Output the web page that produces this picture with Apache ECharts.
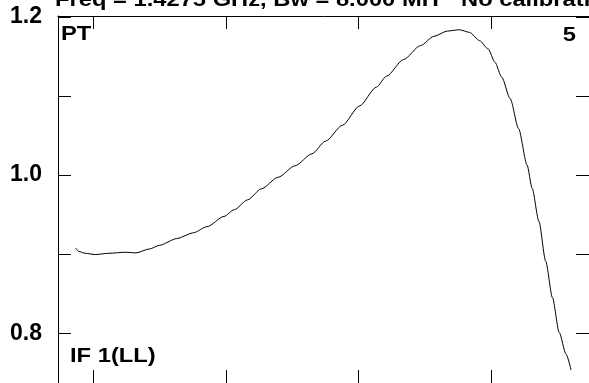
<!DOCTYPE html>
<html>
<head>
<meta charset="utf-8">
<script src="https://cdn.jsdelivr.net/npm/echarts@6/dist/echarts.min.js"></script>
<style>
html,body{margin:0;padding:0;background:#fff;}
#c{width:589px;height:383px;}
</style>
</head>
<body>
<div id="c"></div>
<script>
// channel positions (arbitrary units) and normalized amplitude
const chan = [87.0, 89.0, 94.1, 101.8, 112.0, 124.7, 132.4, 142.6, 150.2, 163.0, 175.7, 185.9, 198.7, 206.3, 216.5, 226.7, 239.4, 252.2, 264.9, 275.1, 287.9, 300.6, 313.4, 321.0, 333.8, 346.5, 356.7, 366.9, 375.8, 383.5, 391.1, 397.5, 402.6, 407.7, 414.1, 420.4, 426.8, 430.6, 435.7, 440.8, 445.9, 451.0, 456.1, 459.9];
const amp = [0.9078, 0.9036, 0.9010, 0.8994, 0.9010, 0.9023, 0.9015, 0.9065, 0.9111, 0.9195, 0.9270, 0.9346, 0.9476, 0.9560, 0.9686, 0.9824, 0.9971, 1.0117, 1.0268, 1.0428, 1.0629, 1.0872, 1.1111, 1.1249, 1.1459, 1.1635, 1.1753, 1.1820, 1.1836, 1.1803, 1.1698, 1.1593, 1.1426, 1.1237, 1.0964, 1.0587, 1.0126, 0.9832, 0.9413, 0.8910, 0.8449, 0.8008, 0.7736, 0.7535];
const xTicks = [100, 200, 300, 400];
const yTicks = [0.8, 0.9, 1.0, 1.1, 1.2];
const yLabels = [0.8, 1.0, 1.2];
const titleText = "Freq = 1.4275 GHz, Bw = 8.000 MH";
const titleText2 = "No calibration";
const cornerTL = "PT";
const cornerTR = "5";
const cornerBL = "IF 1(LL)";

const FONT = '"Liberation Sans", Arial, Helvetica, sans-serif';
const chart = echarts.init(document.getElementById('c'), null, {renderer: 'canvas'});
const lineStyle = {color: '#000', width: 1};
const xBase = {
  type: 'value', min: 73.74, max: 473.4,
  axisLine: {show: true, lineStyle: lineStyle},
  axisTick: {show: true, inside: true, length: 13, customValues: xTicks, lineStyle: lineStyle},
  axisLabel: {show: false},
  splitLine: {show: false}
};
const yBase = {
  type: 'value', min: 0.737, max: 1.201,
  axisLine: {show: true, lineStyle: lineStyle},
  axisTick: {show: true, inside: true, length: 13, customValues: yTicks, lineStyle: lineStyle},
  splitLine: {show: false}
};
const data = chan.map((c, i) => [c, amp[i]]);
const txt = (x, y, text, align, va) => ({
  type: 'text', x: x, y: y, scaleX: 1.13,
  style: {text: text, fill: '#000', font: 'bold 21px ' + FONT, textAlign: align, textVerticalAlign: va}
});
chart.setOption({
  animation: false,
  backgroundColor: '#fff',
  grid: {left: 58, right: 0, top: 16, bottom: -2},
  xAxis: [
    Object.assign({}, xBase, {position: 'bottom'}),
    Object.assign({}, xBase, {position: 'top'})
  ],
  yAxis: [
    Object.assign({}, yBase, {position: 'left',
      axisLabel: {show: true, customValues: yLabels, margin: 16, color: '#000',
        fontFamily: FONT, fontWeight: 'bold', fontSize: 23,
        formatter: v => v.toFixed(1)}}),
    Object.assign({}, yBase, {position: 'right', axisLabel: {show: false}})
  ],
  series: [{
    type: 'line', data: data, xAxisIndex: 0, yAxisIndex: 0,
    showSymbol: false, smooth: 0.25, smoothMonotone: 'x', clip: true,
    lineStyle: {color: '#000', width: 1}
  }],
  graphic: [
    txt(55, 11, titleText, 'left', 'bottom'),
    txt(461, 11, titleText2, 'left', 'bottom'),
    txt(61, 34, cornerTL, 'left', 'middle'),
    txt(576, 35, cornerTR, 'right', 'middle'),
    txt(70, 356, cornerBL, 'left', 'middle')
  ]
});
</script>
</body>
</html>
